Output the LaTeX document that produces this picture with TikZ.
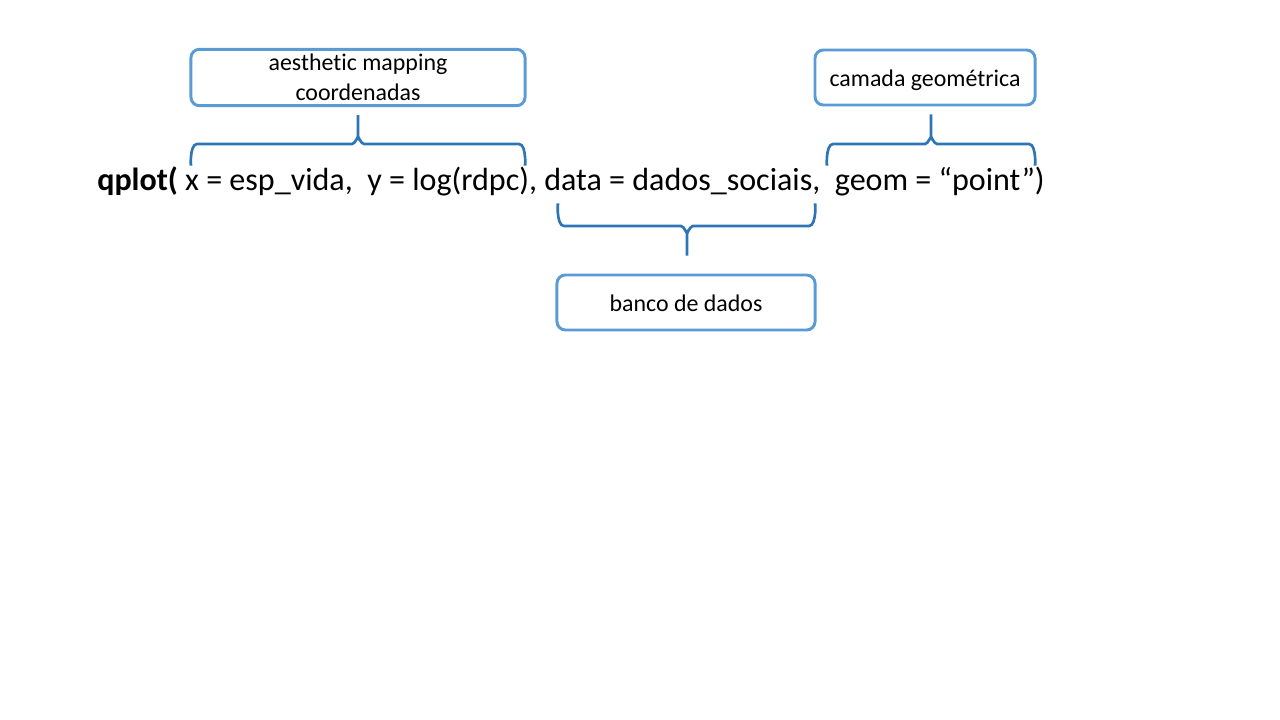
\documentclass[tikz,border=0pt]{standalone}
\usepackage{fontspec}
\setmainfont[Ligatures=NoCommon]{Carlito}
\usepackage{tikz}
\usetikzlibrary{positioning, calc}
\usepackage{xcolor}
\definecolor{boxblue}{RGB}{91, 155, 213}
\definecolor{braceblue}{RGB}{46, 117, 182}

\begin{document}
\begin{tikzpicture}[x=0.025cm, y=-0.025cm,
    box/.style={rectangle, draw=boxblue, line width=2.1pt, minimum height=1.375cm, text centered, rounded corners=6pt, align=center, font=\fontsize{17}{21.5}\selectfont},
    brace/.style={line width=1.9pt, braceblue}
]
    \useasboundingbox (0,0) rectangle (1280,720);
    % Boxes
    \node[box, minimum width=8.35cm] (aes) at (358,77.5) {aesthetic mapping\\ coordenadas};
    \node[box, minimum width=5.5cm, text height=13pt, text depth=0pt] (camada) at (925,77.5) {camada geométrica};
    \node[box, minimum width=6.45cm, text height=13pt, text depth=0pt] (banco) at (686,302.5) {banco de dados};

    % Code line
    \node[anchor=base west, inner sep=0pt, font=\fontsize{22.8}{27}\selectfont] (code) at (97,191)
        {\textbf{qplot(} x = esp\_vida,\ \ y = log(rdpc), data = dados\_sociais,\ \ geom = “point”)};

    % Braces
    \draw[brace] (191,164) to[out=-90,in=180] (197,144) -- (352,144) to[out=0,in=90] (358,138)
        -- ($(aes.south)+(0,8)$);
    \draw[brace] (358,138) to[out=90,in=180] (364,144) -- (519,144) to[out=0,in=-90] (525,164);
    \draw[brace] (827,164) to[out=-90,in=180] (833,144) -- (925,144) to[out=0,in=90] (931,138)
        -- ($(camada.south)+(6,8)$);
    \draw[brace] (931,138) to[out=90,in=180] (937,144) -- (1029,144) to[out=0,in=-90] (1035,164);
    \draw[brace] (558,205) to[out=90,in=180] (564,226) -- (681,226) to[out=0,in=-90] (687,232)
        -- ($(banco.north)+(1,-18)$);
    \draw[brace] (687,232) to[out=-90,in=180] (693,226) -- (809,226) to[out=0,in=90] (815,205);

\end{tikzpicture}
\end{document}
